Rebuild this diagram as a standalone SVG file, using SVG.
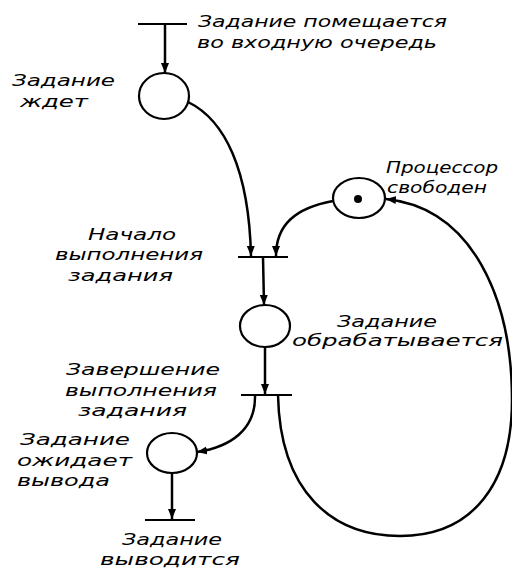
<svg xmlns="http://www.w3.org/2000/svg" width="512" height="571" viewBox="0 0 512 571">
<style>
text{font-family:"DejaVu Sans","Liberation Sans",sans-serif;font-style:italic;font-size:16px;fill:#000}
.place{fill:none;stroke:#000;stroke-width:2.2}
.bar{stroke:#000;stroke-width:2}
.arc{fill:none;stroke:#000;stroke-width:2.5}
</style>
<defs>
<marker id="ah" viewBox="0 0 10 10" refX="10" refY="5" markerWidth="4" markerHeight="4" orient="auto" markerUnits="strokeWidth">
<path d="M0,1 L10,5 L0,9 z" fill="#000"/>
</marker>
</defs>
<rect width="512" height="571" fill="#fff"/>
<g id="connectors">
<line class="arc" x1="165" y1="24" x2="165" y2="73" marker-end="url(#ah)"/>
<path class="arc" d="M188,102 C225,120 249,170 251,256" marker-end="url(#ah)"/>
<path class="arc" d="M333,201 C295,208 276,225 276,256" marker-end="url(#ah)"/>
<line class="arc" x1="263" y1="257" x2="264" y2="305" marker-end="url(#ah)"/>
<line class="arc" x1="265" y1="347" x2="265" y2="394" marker-end="url(#ah)"/>
<path class="arc" d="M255,395 C256,430 230,447 197,452" marker-end="url(#ah)"/>
<line class="arc" x1="172" y1="473" x2="172" y2="519" marker-end="url(#ah)"/>
<path class="arc" d="M278,395 C280,492 332,536 400,536 C474,536 512,482 512,400 C512,298 472,208 386,199" marker-end="url(#ah)"/>
</g>
<g id="t1"><line class="bar" x1="138" y1="24" x2="187" y2="24"/>
<text x="198" y="27" textLength="249" lengthAdjust="spacingAndGlyphs">Задание помещается</text>
<text x="197" y="48" textLength="240" lengthAdjust="spacingAndGlyphs">во входную очередь</text></g>
<g id="p1"><ellipse class="place" cx="164" cy="96" rx="25" ry="23"/>
<text x="12" y="86" textLength="103" lengthAdjust="spacingAndGlyphs">Задание</text>
<text x="20" y="107" textLength="68" lengthAdjust="spacingAndGlyphs">ждет</text></g>
<g id="pproc"><ellipse class="place" cx="359" cy="198" rx="26" ry="20"/><circle cx="358" cy="199" r="4" fill="#000"/>
<text x="386" y="173" textLength="112" lengthAdjust="spacingAndGlyphs">Процессор</text>
<text x="387" y="193" textLength="100" lengthAdjust="spacingAndGlyphs">свободен</text></g>
<g id="t2"><line class="bar" x1="238" y1="257" x2="288" y2="257"/>
<text x="88" y="240" textLength="88" lengthAdjust="spacingAndGlyphs">Начало</text>
<text x="55" y="260" textLength="148" lengthAdjust="spacingAndGlyphs">выполнения</text>
<text x="68" y="281" textLength="105" lengthAdjust="spacingAndGlyphs">задания</text></g>
<g id="p3"><ellipse class="place" cx="265" cy="326" rx="25" ry="21"/>
<text x="337" y="327" textLength="100" lengthAdjust="spacingAndGlyphs">Задание</text>
<text x="292" y="346" textLength="211" lengthAdjust="spacingAndGlyphs">обрабатывается</text></g>
<g id="t3"><line class="bar" x1="241" y1="395" x2="292" y2="395"/>
<text x="66" y="375" textLength="154" lengthAdjust="spacingAndGlyphs">Завершение</text>
<text x="65" y="396" textLength="152" lengthAdjust="spacingAndGlyphs">выполнения</text>
<text x="78" y="416" textLength="109" lengthAdjust="spacingAndGlyphs">задания</text></g>
<g id="p4"><ellipse class="place" cx="172" cy="453" rx="25" ry="20"/>
<text x="20" y="445" textLength="110" lengthAdjust="spacingAndGlyphs">Задание</text>
<text x="17" y="466" textLength="115" lengthAdjust="spacingAndGlyphs">ожидает</text>
<text x="17" y="486" textLength="93" lengthAdjust="spacingAndGlyphs">вывода</text></g>
<g id="t4"><line class="bar" x1="145" y1="520" x2="195" y2="520"/>
<text x="122" y="545" textLength="100" lengthAdjust="spacingAndGlyphs">Задание</text>
<text x="100" y="565" textLength="140" lengthAdjust="spacingAndGlyphs">выводится</text></g>
</svg>
